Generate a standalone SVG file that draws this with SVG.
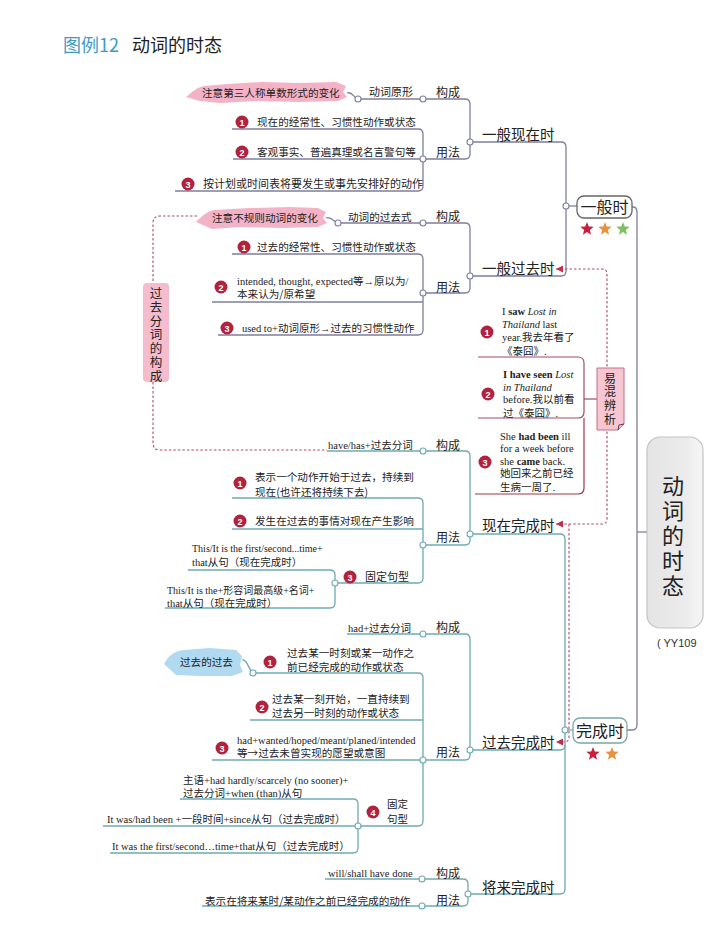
<svg xmlns="http://www.w3.org/2000/svg" width="720" height="945" viewBox="0 0 720 945">
<defs>
<style>
.t{font-family:"Noto Sans CJK SC","Noto Sans",sans-serif;fill:#222;font-size:10.6px}
.s{font-family:"Liberation Serif","Noto Sans CJK SC",serif;fill:#222;font-size:10.5px}
.lab{font-family:"Noto Sans CJK SC",sans-serif;fill:#222;font-size:12px}
.br{font-family:"Noto Sans CJK SC",sans-serif;fill:#222;font-size:14.5px}
.v{font-family:"Noto Sans CJK SC",sans-serif;fill:#222;writing-mode:vertical-rl}
.g1{stroke:#7d7f9e;fill:none;stroke-width:1.3}
.g2{stroke:#6fa9b3;fill:none;stroke-width:1.3}
.n1{fill:#fff;stroke:#7d7f9e;stroke-width:1.1}
.n2{fill:#fff;stroke:#6fa9b3;stroke-width:1.1}
.bd{fill:#b0223e}
.bn{font-family:"Liberation Sans",sans-serif;font-weight:bold;font-size:9px;fill:#fff;text-anchor:middle}
.dash{stroke:#b04a66;fill:none;stroke-width:1.1;stroke-dasharray:2.5 2}
.b{font-weight:bold}
.i{font-style:italic}
</style>
<path id="star" d="M0,-7 L1.76,-2.43 L6.66,-2.16 L2.85,0.93 L4.11,5.66 L0,3 L-4.11,5.66 L-2.85,0.93 L-6.66,-2.16 L-1.76,-2.43 Z"/>
<marker id="arr" viewBox="0 0 8 8" refX="8" refY="4" markerWidth="7" markerHeight="7" markerUnits="userSpaceOnUse" orient="auto-start-reverse">
<path d="M0,0 L8,4 L0,8 Z" fill="#c0304a"/>
</marker>
<linearGradient id="mg" x1="0" y1="0" x2="1" y2="0">
<stop offset="0" stop-color="#e4e4e4"/><stop offset="0.7" stop-color="#ececec"/><stop offset="1" stop-color="#f6f6f6"/>
</linearGradient>
</defs>
<rect width="720" height="945" fill="#fff"/>

<g id="title">
<text x="63" y="52" style="font-family:'Noto Sans CJK SC',sans-serif;font-size:18px;fill:#3d9bc4">图例12</text>
<text x="132" y="52" style="font-family:'Noto Sans CJK SC',sans-serif;font-size:18px;fill:#222">动词的时态</text>
</g>

<g id="connectors">
<path class="g1" d="M347,93 C352,91 354,98 358,99"/>
<path class="g1" d="M358,99 H465 Q470,99 470,104 V154 Q470,159 465,159 H423"/>
<path class="g1" d="M232,129 H418 Q423,129 423,134 V186 Q423,191 418,191 H175"/>
<path class="g1" d="M233,159 H423"/>
<path class="g1" d="M470,142 H561 Q566,142 566,147 V271 Q566,276 561,276 H470"/>
<path class="g1" d="M566,206 H577"/>
<path class="g1" d="M326,218 C331,216 334,222 338,223"/>
<path class="g1" d="M338,223 H465 Q470,223 470,228 V288 Q470,293 465,293 H423"/>
<path class="g1" d="M232,254 H418 Q423,254 423,259 V330 Q423,335 418,335 H218"/>
<path class="g1" d="M212,302 H423"/>
<path class="g1" d="M632,207 H633 Q637,207 637,212 V725 Q637,730 632,730 H627"/>
<path class="g1" d="M637,532 H647"/>
<path class="g2" d="M327,451 H465 Q470,451 470,456 V540 Q470,545 465,545 H423"/>
<path class="g2" d="M232,498 H418 Q423,498 423,503 V578 Q423,583 418,583 H335"/>
<path class="g2" d="M232,529 H423"/>
<path class="g2" d="M188,570 H330 Q335,570 335,575 V603 Q335,608 330,608 H165"/>
<path class="g2" d="M470,534 H560 Q565,534 565,539 V889 Q565,894 560,894 H468"/>
<path class="g2" d="M470,750 H560 Q565,750 565,745"/>
<path class="g2" d="M565,730 H573"/>
<path class="g2" d="M347,634 H465 Q470,634 470,639 V755 Q470,760 465,760 H423"/>
<path class="g2" d="M242,660 C247,658 249,671 253,673"/>
<path class="g2" d="M253,673 H418 Q423,673 423,678 V821 Q423,826 418,826 H358"/>
<path class="g2" d="M250,720 H423"/>
<path class="g2" d="M212,760 H423"/>
<path class="g2" d="M180,799 H353 Q358,799 358,804 V848 Q358,853 353,853 H110"/>
<path class="g2" d="M103,826 H358"/>
<path class="g2" d="M325,879 H463 Q468,879 468,884 V901 Q468,906 463,906 H202"/>
<path class="dash" d="M197,216 H160 Q153,216 153,223 V443 Q153,450 160,450 H327"/>
<path class="dash" d="M556,269 H602 Q607,269 607,274 V519 Q607,524 602,524 H556" marker-start="url(#arr)" marker-end="url(#arr)"/>
<path class="dash" d="M569,524 V737 Q569,742 564,742 H556" marker-end="url(#arr)"/>
<path d="M584,399 H597" stroke="#a04a70" stroke-width="1.2" fill="none"/>
<g>
<circle class="n1" cx="358" cy="99" r="3"/><circle class="n1" cx="423" cy="99" r="3"/>
<circle class="n1" cx="470" cy="142" r="3"/><circle class="n1" cx="423" cy="159" r="3"/>
<circle class="n1" cx="566" cy="206" r="3"/>
<circle class="n1" cx="338" cy="223" r="3"/><circle class="n1" cx="423" cy="223" r="3"/>
<circle class="n1" cx="470" cy="276" r="3"/><circle class="n1" cx="423" cy="293" r="3"/>
<circle class="n2" cx="423" cy="451" r="3"/><circle class="n2" cx="470" cy="534" r="3"/>
<circle class="n2" cx="423" cy="545" r="3"/><circle class="n2" cx="335" cy="583" r="3"/>
<circle class="n2" cx="565" cy="730" r="3"/>
<circle class="n2" cx="423" cy="634" r="3"/><circle class="n2" cx="253" cy="673" r="3"/>
<circle class="n2" cx="470" cy="750" r="3"/><circle class="n2" cx="423" cy="760" r="3"/>
<circle class="n2" cx="358" cy="826" r="3"/>
<circle class="n2" cx="422" cy="879" r="3"/><circle class="n2" cx="422" cy="906" r="3"/>
<circle class="n2" cx="468" cy="894" r="3"/>
</g>
</g>

<g id="root">
<rect x="647" y="437" width="56" height="191" rx="13" fill="url(#mg)" stroke="#c4c4c4" stroke-width="1.2"/>
<text class="v" x="673" y="475" style="font-size:22px;letter-spacing:3px">动词的时态</text>
<text x="657" y="647" style="font-family:'Liberation Sans',sans-serif;font-size:11px;fill:#333">( YY109</text>
</g>

<g id="general">
<rect x="577" y="196" width="55" height="22" rx="7" fill="#fff" stroke="#666" stroke-width="1.3"/>
<text x="604.5" y="213" text-anchor="middle" style="font-family:'Noto Sans CJK SC',sans-serif;font-size:16px;fill:#222">一般时</text>
<use href="#star" x="587" y="229" fill="#c8203c"/>
<use href="#star" x="605" y="229" fill="#e8923e"/>
<use href="#star" x="623" y="229" fill="#7cc060"/>
</g>

<g id="perfect">
<rect x="573" y="718" width="54" height="25" rx="7" fill="#fff" stroke="#7aa6ad" stroke-width="1.3"/>
<text x="600" y="736.5" text-anchor="middle" style="font-family:'Noto Sans CJK SC',sans-serif;font-size:16px;fill:#222">完成时</text>
<use href="#star" x="593" y="754" fill="#c8203c"/>
<use href="#star" x="612" y="754" fill="#e8923e"/>
</g>

<g id="present-simple">
<path d="M186,97 C192,92 196,88 204,86 L228,84 L262,82 L300,83 L336,82 L346,86 L343,92 L347,97 L338,101 L300,102 L256,101 L220,103 L200,101 Z" fill="#f2a5bc" opacity="0.85"/>
<text class="t" x="202" y="97">注意第三人称单数形式的变化</text>
<text class="t" x="369" y="96" style="font-size:11px">动词原形</text>
<text class="lab" x="436" y="97">构成</text>
<text class="lab" x="436" y="157">用法</text>
<text class="br" x="482" y="140">一般现在时</text>
<circle class="bd" cx="242" cy="122" r="6.5"/><text class="bn" x="242" y="125.5">1</text>
<text class="t" x="257" y="126">现在的经常性、习惯性动作或状态</text>
<circle class="bd" cx="242" cy="152" r="6.5"/><text class="bn" x="242" y="155.5">2</text>
<text class="t" x="257" y="156">客观事实、普遍真理或名言警句等</text>
<circle class="bd" cx="188" cy="184" r="6.5"/><text class="bn" x="188" y="187.5">3</text>
<text class="t" x="203" y="188" style="font-size:11px">按计划或时间表将要发生或事先安排好的动作</text>
</g>

<g id="past-simple">
<path d="M196,222 C202,216 206,212 214,210 L250,208 L290,207 L318,208 L326,212 L323,218 L327,223 L318,227 L280,228 L240,227 L212,229 Z" fill="#f2a5bc" opacity="0.85"/>
<text class="t" x="212" y="222">注意不规则动词的变化</text>
<text class="t" x="348" y="221">动词的过去式</text>
<text class="lab" x="436" y="221">构成</text>
<text class="lab" x="436" y="292">用法</text>
<text class="br" x="482" y="273.5">一般过去时</text>
<circle class="bd" cx="244" cy="247" r="6.5"/><text class="bn" x="244" y="250.5">1</text>
<text class="t" x="257" y="251">过去的经常性、习惯性动作或状态</text>
<circle class="bd" cx="221" cy="287" r="6.5"/><text class="bn" x="221" y="290.5">2</text>
<text class="s" x="237" y="285">intended, thought, expected等→原以为/</text>
<text class="t" x="237" y="298">本来认为/原希望</text>
<circle class="bd" cx="227" cy="328" r="6.5"/><text class="bn" x="227" y="331.5">3</text>
<text class="s" x="242" y="332">used to+动词原形→过去的习惯性动作</text>
</g>

<g id="participle">
<rect x="143" y="283" width="26" height="99" rx="4" fill="#f5bccd"/>
<text class="v" x="156" y="287" style="font-size:12.5px;letter-spacing:1.3px">过去分词的构成</text>
</g>

<g id="confusion">
<path d="M478,357 H578 Q584,357 584,363 V412 Q584,418 578,418 H478" fill="none" stroke="#a04a70" stroke-width="1.2"/>
<path d="M584,418 V488 Q584,494 578,494 H475" fill="none" stroke="#a03848" stroke-width="1.2"/>
<circle class="bd" cx="487" cy="332" r="6.5"/><text class="bn" x="487" y="335.5">1</text>
<text class="s" x="502" y="315">I <tspan class="b">saw</tspan> <tspan class="i">Lost in</tspan></text>
<text class="s" x="502" y="328"><tspan class="i">Thailand</tspan> last</text>
<text class="s" x="502" y="341">year.我去年看了</text>
<text class="s" x="502" y="355">《泰囧》.</text>
<circle class="bd" cx="488" cy="394" r="6.5"/><text class="bn" x="488" y="397.5">2</text>
<text class="s" x="503" y="378"><tspan class="b">I have seen</tspan> <tspan class="i">Lost</tspan></text>
<text class="s" x="503" y="391"><tspan class="i">in Thailand</tspan></text>
<text class="s" x="503" y="403">before.我以前看</text>
<text class="s" x="503" y="417">过《泰囧》.</text>
<circle class="bd" cx="485" cy="462" r="6.5"/><text class="bn" x="485" y="465.5">3</text>
<text class="s" x="500" y="440">She <tspan class="b">had been</tspan> ill</text>
<text class="s" x="500" y="452">for a week before</text>
<text class="s" x="500" y="465">she <tspan class="b">came</tspan> back.</text>
<text class="s" x="500" y="477">她回来之前已经</text>
<text class="s" x="500" y="491">生病一周了.</text>
<path d="M597,368 H624 V424 L618,430 H597 Z" fill="#f6c6d3" stroke="#c07088" stroke-width="1"/>
<path d="M618,430 L619,425 L624,424" fill="none" stroke="#7a3048" stroke-width="1"/>
<text class="v" x="610" y="372" style="font-size:12px;letter-spacing:1.7px">易混辨析</text>
</g>

<g id="present-perfect">
<text class="s" x="328" y="449">have/has+过去分词</text>
<text class="lab" x="436" y="449.5">构成</text>
<text class="br" x="482" y="530.5">现在完成时</text>
<text class="lab" x="436" y="542">用法</text>
<circle class="bd" cx="240" cy="483" r="6.5"/><text class="bn" x="240" y="486.5">1</text>
<text class="t" x="255" y="481">表示一个动作开始于过去，持续到</text>
<text class="t" x="255" y="496">现在(也许还将持续下去)</text>
<circle class="bd" cx="240" cy="521" r="6.5"/><text class="bn" x="240" y="524.5">2</text>
<text class="t" x="255" y="525">发生在过去的事情对现在产生影响</text>
<circle class="bd" cx="350" cy="577" r="6.5"/><text class="bn" x="350" y="580.5">3</text>
<text class="t" x="365" y="581" style="font-size:11px">固定句型</text>
<text class="s" x="192" y="552" style="font-size:10px">This/It is the first/second...time+</text>
<text class="s" x="192" y="566">that从句（现在完成时）</text>
<text class="s" x="167" y="594" style="font-size:10px">This/It is the+形容词最高级+名词+</text>
<text class="s" x="167" y="607">that从句（现在完成时）</text>
</g>

<g id="past-perfect">
<path d="M164,664 C168,656 174,651 184,650 L210,648 L236,650 L242,656 L240,665 L243,672 L232,676 L200,676 L176,675 Z" fill="#a8d6ee" opacity="0.9"/>
<text class="t" x="180" y="666">过去的过去</text>
<text class="s" x="348" y="632">had+过去分词</text>
<text class="lab" x="436" y="632">构成</text>
<circle class="bd" cx="270" cy="662" r="6.5"/><text class="bn" x="270" y="665.5">1</text>
<text class="t" x="287" y="657">过去某一时刻或某一动作之</text>
<text class="t" x="287" y="671">前已经完成的动作或状态</text>
<circle class="bd" cx="262" cy="707" r="6.5"/><text class="bn" x="262" y="710.5">2</text>
<text class="t" x="272" y="703">过去某一刻开始，一直持续到</text>
<text class="t" x="272" y="717">过去另一时刻的动作或状态</text>
<circle class="bd" cx="222" cy="748" r="6.5"/><text class="bn" x="222" y="751.5">3</text>
<text class="s" x="237" y="744">had+wanted/hoped/meant/planed/intended</text>
<text class="t" x="237" y="757">等→过去未曾实现的愿望或意图</text>
<text class="lab" x="436" y="757">用法</text>
<text class="br" x="482" y="747.5">过去完成时</text>
<circle class="bd" cx="373" cy="812" r="6.5"/><text class="bn" x="373" y="815.5">4</text>
<text class="t" x="387" y="808" style="font-size:10.5px">固定</text>
<text class="t" x="387" y="823" style="font-size:10.5px">句型</text>
<text class="s" x="183" y="784">主语+had hardly/scarcely (no sooner)+</text>
<text class="s" x="183" y="797">过去分词+when (than)从句</text>
<text class="s" x="107" y="823">It was/had been +一段时间+since从句（过去完成时）</text>
<text class="s" x="112" y="850">It was the first/second…time+that从句（过去完成时）</text>
</g>

<g id="future-perfect">
<text class="s" x="328" y="877">will/shall have done</text>
<text class="lab" x="436" y="878">构成</text>
<text class="t" x="205" y="905">表示在将来某时/某动作之前已经完成的动作</text>
<text class="lab" x="436" y="905">用法</text>
<text class="br" x="482" y="892.5">将来完成时</text>
</g>
</svg>
